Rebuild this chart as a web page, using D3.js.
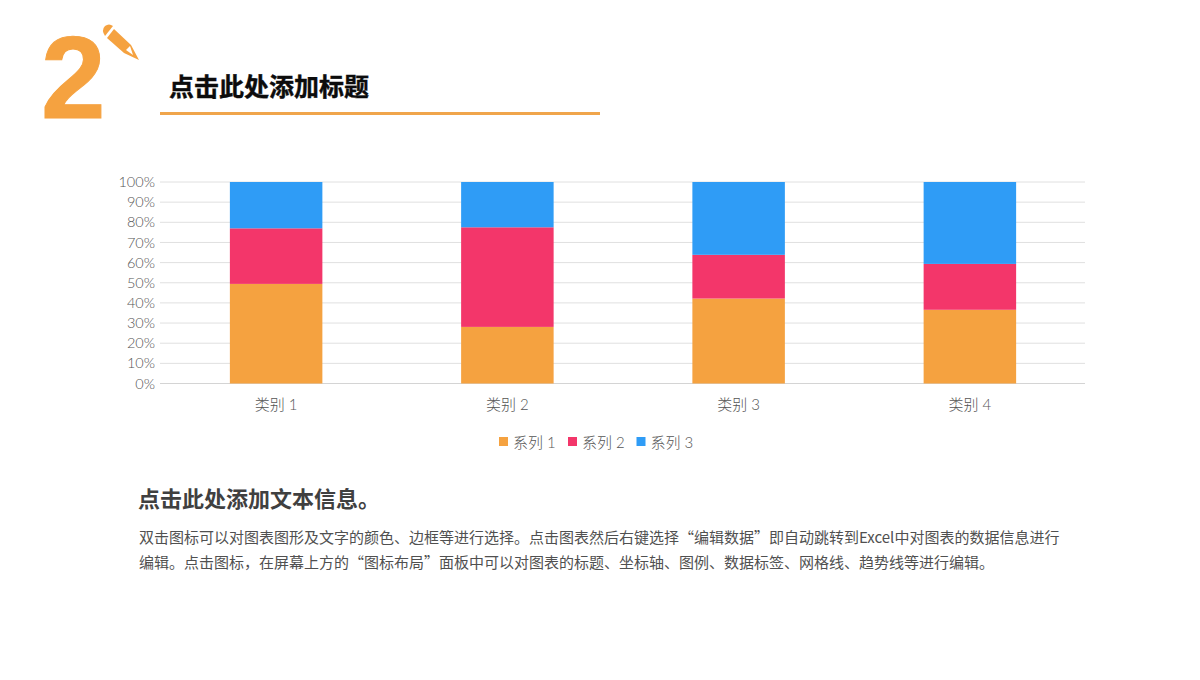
<!DOCTYPE html>
<html><head><meta charset="utf-8">
<script src="https://cdnjs.cloudflare.com/ajax/libs/d3/7.8.5/d3.min.js"></script>
<style>
html,body{margin:0;padding:0;background:#fff}
svg{display:block}
text{font-family:Lato,"Noto Sans CJK SC",sans-serif}
</style></head><body><svg id="c" width="1200" height="680"></svg>
<script>
const categories=["类别 1","类别 2","类别 3","类别 4"];
const seriesNames=["系列 1","系列 2","系列 3"];
const series1=[4.3,2.5,3.5,4.5];
const series2=[2.4,4.4,1.8,2.8];
const series3=[2,2,3,5];
const colors=["#F5A240","#F3366A","#2F9CF6"];
const yTicks=[0,.1,.2,.3,.4,.5,.6,.7,.8,.9,1];
const bodyLines=["双击图标可以对图表图形及文字的颜色、边框等进行选择。点击图表然后右键选择“编辑数据”即自动跳转到Excel中对图表的数据信息进行","编辑。点击图标，在屏幕上方的“图标布局”面板中可以对图表的标题、坐标轴、图例、数据标签、网格线、趋势线等进行编辑。"];

const svg=d3.select("#c");
// header
svg.append("text").attr("x",41).attr("y",118).attr("font-size",116).attr("font-weight",700)
  .style("font-family","'Liberation Sans',sans-serif").attr("fill","#F5A240").attr("stroke","#F5A240").attr("stroke-width",1).text("2");
const pencil=svg.append("g").attr("fill","#F5A240");
pencil.append("path").attr("d","M105 36 Q101 30 105 26 Q109 23 113 26 Z");
pencil.append("path").attr("d","M114 29 L107 38 L124 53 L139 60 L131 45 Z");
pencil.append("path").attr("d","M126 50 L130 46 L133 55 Z").attr("fill","#fff");
svg.append("text").attr("x",169).attr("y",96).attr("font-size",25).attr("font-weight",700)
  .attr("fill","#0c0c0c").attr("stroke","#0c0c0c").attr("stroke-width",.4).style("font-family","'Noto Sans CJK SC'").text("点击此处添加标题");
svg.append("rect").attr("x",160).attr("y",112).attr("width",440).attr("height",3).attr("fill","#F0A54B");

// chart
const x=d3.scaleBand().domain(categories).range([160.5,1085.5]).paddingInner(.6).paddingOuter(.3);
const y=d3.scaleLinear().domain([0,1]).range([383.5,182]);
const rows=categories.map((c,i)=>({c,a:series1[i],b:series2[i],d:series3[i]}));
const stack=d3.stack().keys(["a","b","d"]).offset(d3.stackOffsetExpand)(rows);

const axisY=d3.axisLeft(y).tickValues(yTicks).tickFormat(d3.format(".0%")).tickSize(0).tickPadding(5);
const gy=svg.append("g").attr("transform","translate(160,0)").call(axisY);
gy.select(".domain").remove();
gy.selectAll("text").attr("font-size",14.5).attr("fill","#555").style("font-weight",300);
svg.append("g").selectAll("line").data(yTicks).join("line")
  .attr("x1",160).attr("x2",1085).attr("y1",d=>y(d)).attr("y2",d=>y(d))
  .attr("stroke",d=>d===0?"#d4d4d4":"#e0e0e0").attr("stroke-width",1);

svg.append("g").selectAll("g").data(stack).join("g").attr("fill",(d,i)=>colors[i])
  .selectAll("rect").data(d=>d).join("rect")
  .attr("x",d=>x(d.data.c)).attr("width",x.bandwidth())
  .attr("y",d=>y(d[1])).attr("height",d=>y(d[0])-y(d[1]));

const axisX=d3.axisBottom(x).tickSize(0).tickPadding(16);
const gx=svg.append("g").attr("transform","translate(0,383)").call(axisX);
gx.select(".domain").remove();
gx.selectAll("text").attr("font-size",15).attr("fill","#555").style("font-weight",300);

// legend
const legendX=d3.scaleOrdinal().domain(seriesNames).range([499,568,636.5]);
const lg=svg.append("g").selectAll("g").data(seriesNames).join("g")
  .attr("transform",d=>`translate(${legendX(d)},437)`);
lg.append("rect").attr("width",9).attr("height",9).attr("fill",(d,i)=>colors[i]);
lg.append("text").attr("x",14).attr("y",10.5).attr("font-size",15).attr("fill","#555")
  .style("font-weight",300).text(d=>d);

// text block
svg.append("text").attr("x",138).attr("y",507).attr("font-size",22).attr("font-weight",700)
  .style("font-family","'Noto Sans CJK SC'").attr("fill","#404040").text("点击此处添加文本信息。");
svg.append("g").selectAll("text").data(bodyLines).join("text")
  .attr("x",139).attr("y",(d,i)=>543+i*25).attr("font-size",15)
  .style("font-family","'Noto Sans CJK SC'").attr("fill","#505050").text(d=>d);
</script></body></html>
